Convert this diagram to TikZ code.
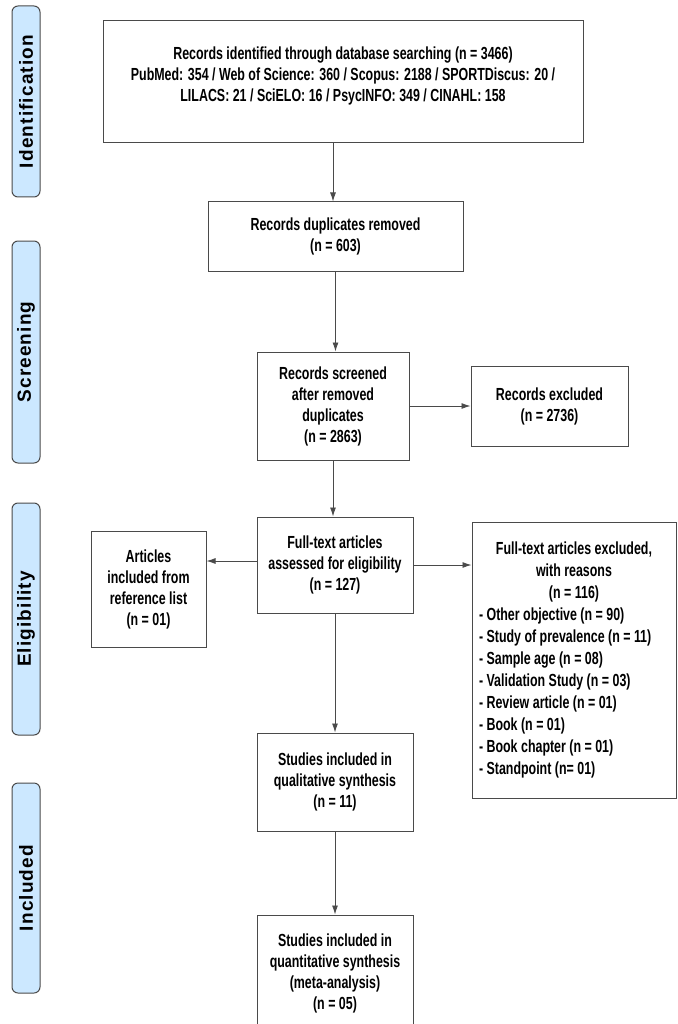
\documentclass[tikz,border=0pt]{standalone}
\usepackage{fontspec}
\setmainfont{Liberation Sans}[FakeStretch=0.71]
\newfontfamily\barfont{Liberation Sans}[LetterSpace=6]
\usepackage{tikz}
\usetikzlibrary{positioning}
\usetikzlibrary{arrows.meta}
\tikzset{>={Latex[width=6pt,length=9pt]}}
\definecolor{barblue}{HTML}{CCE8FF}
\definecolor{lineg}{HTML}{4A4A4A}

\begin{document}
\begin{tikzpicture}[x=1pt, y=1pt,
    box/.style={rectangle, draw=lineg, line width=1pt, fill=white, align=center, inner sep=4pt, font=\fontsize{17.5}{21}\selectfont\bfseries},
    stage/.style={rounded corners=6pt, draw=lineg, line width=1pt, fill=barblue, minimum height=28pt, rotate=90, font=\barfont\fontsize{19}{22}\selectfont\bfseries} ]

    \useasboundingbox (0,0) rectangle (677,-1024);

    %Stages
    \node[stage, minimum width=191pt] (ident) at (26,-101.5) {Identification};
    \node[stage, minimum width=222pt] (screen) at (26,-352) {Screening};
    \node[stage, minimum width=232pt] (elig) at (26,-619) {Eligibility};
    \node[stage, minimum width=210pt] (incl) at (26,-888) {Included};

    %Nodes
    \node[box, minimum width=480pt, minimum height=122pt] (records) at (343,-82) {Records identified through database searching (n = 3466)\\PubMed: 354 / Web of Science: 360 / Scopus: 2188 / SPORTDiscus: 20 /\\LILACS: 21 / SciELO: 16 / PsycINFO: 349 / CINAHL: 158\\[-5pt]\mbox{}};
    \node[box, minimum width=255pt, minimum height=69pt, below=58pt of records, xshift=-7.5pt] (dup_removed) {Records duplicates removed\\(n = 603)};
    \node[box, minimum width=152pt, minimum height=108pt, below=80pt of dup_removed, xshift=-2.5pt] (screened) {Records screened\\after removed\\duplicates\\(n = 2863)};
    \node[box, minimum width=157pt, minimum height=80pt, right=61pt of screened] (rec_excluded) {Records excluded\\(n = 2736)};
    \node[box, minimum width=156pt, minimum height=96pt, below=56pt of screened, xshift=2pt] (assessed) {Full-text articles\\assessed for eligibility\\(n = 127)};
    \node[box, minimum width=115pt, minimum height=116pt, left=50pt of assessed, yshift=-24pt] (ref_list) {Articles\\included from\\reference list\\(n = 01)};
    \node[box, inner xsep=7pt, minimum width=204pt, minimum height=276pt, align=left, font=\fontsize{17.5}{22}\selectfont\bfseries, right=58pt of assessed, yshift=-95pt] (ft_excluded) {\makebox[190pt]{Full-text articles excluded,}\\
        \makebox[190pt]{with reasons}\\
        \makebox[190pt]{(n = 116)}\\
        - Other objective (n = 90)\\
        - Study of prevalence (n = 11)\\
        - Sample age (n = 08)\\
        - Validation Study (n = 03)\\
        - Review article (n = 01)\\
        - Book (n = 01)\\
        - Book chapter (n = 01)\\
        - Standpoint (n= 01)};
    \node[box, minimum width=156pt, minimum height=98pt, below=119pt of assessed] (qualitative) {Studies included in\\qualitative synthesis\\(n = 11)};
    \node[box, minimum width=156pt, minimum height=116pt, below=83pt of qualitative] (quantitative) {Studies included in\\quantitative synthesis\\(meta-analysis)\\(n = 05)};

    %Lines
    \draw[->, draw=lineg, line width=0.9pt] (records.south -| dup_removed.north) ++(-2.5,0) coordinate (rec_out) -- (rec_out |- dup_removed.north);
    \draw[->, draw=lineg, line width=0.9pt] (dup_removed.south) -- (dup_removed.south |- screened.north);
    \draw[->, draw=lineg, line width=0.9pt] (screened.east) -- (rec_excluded.west);
    \draw[->, draw=lineg, line width=0.9pt] (screened.south) -- (screened.south |- assessed.north);
    \draw[->, draw=lineg, line width=0.9pt] ([yshift=4pt]assessed.west) -- ([yshift=4pt]assessed.west -| ref_list.east);
    \draw[->, draw=lineg, line width=0.9pt] (assessed.east) -- (assessed.east -| ft_excluded.west);
    \draw[->, draw=lineg, line width=0.9pt] (assessed.south) -- (qualitative.north);
    \draw[->, draw=lineg, line width=0.9pt] (qualitative.south) -- (quantitative.north);
\end{tikzpicture}
\end{document}
